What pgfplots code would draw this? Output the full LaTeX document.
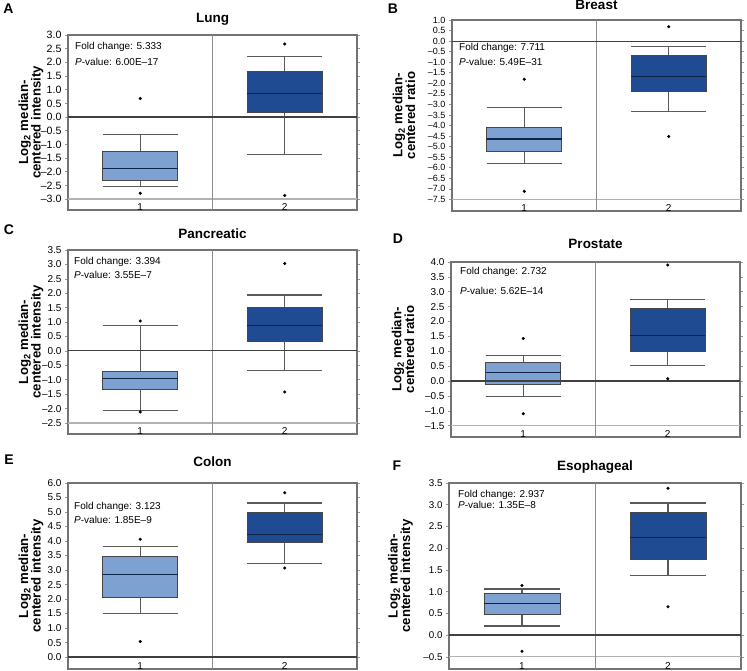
\documentclass[border=0pt]{standalone}
\usepackage{pgfplots}
\pgfplotsset{compat=1.18}
\usepgfplotslibrary{statistics}
\usepackage{fontspec}
\setmainfont{Liberation Sans}
\definecolor{lightbox}{HTML}{7DA2D2}
\definecolor{darkbox}{HTML}{1E4B91}
\definecolor{medline}{HTML}{0F2548}
\newcommand{\annfont}{\fontsize{10}{10}\selectfont}
\pgfplotsset{
 panel/.style={
  scale only axis, width=289pt, xmin=0.5, xmax=2.5,
  axis line style={draw=black!55, line width=1.4pt},
  xtick={1,2}, xticklabels={1,2},
  xtick style={draw=none},
  x tick label style={anchor=center, yshift=6pt, font=\fontsize{10}{10}\selectfont},
  ytick pos=both, tick align=outside, major tick length=3pt,
  ytick style={black!40, line width=0.6pt},
  yticklabel pos=left,
  title style={font=\bfseries\fontsize{13.5}{13.5}\selectfont, at={(axis description cs:0.5,1)}, anchor=center, yshift=10pt},
  ylabel style={anchor=center, align=center, font=\bfseries\fontsize{13.2}{12.6}\selectfont},
  clip=false,
 },
 tf/.style={y tick label style={font=\fontsize{#1}{#1}\selectfont}},
 leftpanel/.style={panel, ylabel style={at={(axis description cs:-0.128,0.5)}}},
 rightpanel/.style={panel, ylabel style={at={(axis description cs:-0.166,0.5)}}},
 bx1/.style={mark=*, mark size=1.35pt, mark options={fill=black, draw=black},
   boxplot/draw direction=y,
   boxplot/box extend=0.52, boxplot/whisker extend=0.52,
   boxplot/every box/.style={fill=lightbox, draw=black!72, line width=0.9pt},
   boxplot/every median/.style={draw=medline, line width=1.4pt},
   boxplot/every whisker/.style={draw=black!65, line width=1.1pt}},
 bx2/.style={mark=*, mark size=1.35pt, mark options={fill=black, draw=black},
   boxplot/draw direction=y,
   boxplot/box extend=0.52, boxplot/whisker extend=0.52,
   boxplot/every box/.style={fill=darkbox, draw=black!72, line width=0.9pt},
   boxplot/every median/.style={draw=medline, line width=1.4pt},
   boxplot/every whisker/.style={draw=black!65, line width=1.1pt}},
}
\newcommand{\ylabint}{Log\textsubscript{2} median-\\centered intensity}
\newcommand{\ylabrat}{Log\textsubscript{2} median-\\centered ratio}
\begin{document}
\begin{tikzpicture}
\path[use as bounding box] (0,0) rectangle (747pt,-671pt);

% ---------- A: Lung ----------
\begin{axis}[leftpanel, tf=10.6, at={(68pt,-210pt)}, anchor=south west, height=175pt,
  ymin=-3.4, ymax=3.0, title={Lung}, ylabel={\ylabint},
  ytick={-3,-2.5,-2,-1.5,-1,-0.5,0,0.5,1,1.5,2,2.5,3},
  yticklabels={–3.0,–2.5,–2.0,–1.5,–1.0,–0.5,0.0,0.5,1.0,1.5,2.0,2.5,3.0}]
\addplot[bx1, boxplot prepared={draw position=1, lower whisker=-2.53, lower quartile=-2.31, median=-1.88, upper quartile=-1.27, upper whisker=-0.64}]
  table[row sep=\\, y index=0] {0.68\\ -2.79\\};
\addplot[bx2, boxplot prepared={draw position=2, lower whisker=-1.37, lower quartile=0.15, median=0.86, upper quartile=1.65, upper whisker=2.22}]
  table[row sep=\\, y index=0] {2.67\\ -2.87\\};
\draw[black!30, line width=1.3pt] (axis cs:0.5,-3) -- (axis cs:2.5,-3);
\draw[black!45, line width=0.8pt] (axis cs:1.5,-3.4) -- (axis cs:1.5,3);
\draw[black!75, line width=1.1pt] (axis cs:0.5,0) -- (axis cs:2.5,0);
\end{axis}

% ---------- B: Breast ----------
\begin{axis}[rightpanel, tf=9, at={(452pt,-211pt)}, anchor=south west, height=191pt,
  ymin=-8.05, ymax=1.0, title={Breast}, title style={yshift=-1pt}, ylabel={\ylabrat},
  ytick={-7.5,-7,-6.5,-6,-5.5,-5,-4.5,-4,-3.5,-3,-2.5,-2,-1.5,-1,-0.5,0,0.5,1},
  yticklabels={–7.5,–7.0,–6.5,–6.0,–5.5,–5.0,–4.5,–4.0,–3.5,–3.0,–2.5,–2.0,–1.5,–1.0,–0.5,0.0,0.5,1.0}]
\addplot[bx1, boxplot prepared={draw position=1, lower whisker=-5.78, lower quartile=-5.21, median=-4.63, upper quartile=-4.11, upper whisker=-3.16}]
  table[row sep=\\, y index=0] {-1.81\\ -7.12\\};
\addplot[bx2, boxplot prepared={draw position=2, lower whisker=-3.34, lower quartile=-2.38, median=-1.67, upper quartile=-0.69, upper whisker=-0.25}]
  table[row sep=\\, y index=0] {0.68\\ -4.52\\};
\draw[black!30, line width=1.3pt] (axis cs:0.5,-7.5) -- (axis cs:2.5,-7.5);
\draw[black!45, line width=0.8pt] (axis cs:1.5,-8.05) -- (axis cs:1.5,1);
\draw[black!75, line width=1.1pt] (axis cs:0.5,0) -- (axis cs:2.5,0);
\end{axis}

% ---------- C: Pancreatic ----------
\begin{axis}[leftpanel, tf=10, at={(68pt,-434pt)}, anchor=south west, height=184pt,
  ymin=-2.88, ymax=3.5, title={Pancreatic}, ylabel={\ylabint},
  ytick={-2.5,-2,-1.5,-1,-0.5,0,0.5,1,1.5,2,2.5,3,3.5},
  yticklabels={–2.5,–2.0,–1.5,–1.0,–0.5,0.0,0.5,1.0,1.5,2.0,2.5,3.0,3.5}]
\addplot[bx1, boxplot prepared={draw position=1, lower whisker=-2.07, lower quartile=-1.33, median=-0.95, upper quartile=-0.71, upper whisker=0.87}]
  table[row sep=\\, y index=0] {1.04\\ -2.12\\};
\addplot[bx2, boxplot prepared={draw position=2, lower whisker=-0.69, lower quartile=0.32, median=0.89, upper quartile=1.52, upper whisker=1.94}]
  table[row sep=\\, y index=0] {3.03\\ -1.42\\};
\draw[black!30, line width=1.3pt] (axis cs:0.5,-2.5) -- (axis cs:2.5,-2.5);
\draw[black!45, line width=0.8pt] (axis cs:1.5,-2.88) -- (axis cs:1.5,3.5);
\draw[black!75, line width=1.1pt] (axis cs:0.5,0) -- (axis cs:2.5,0);
\end{axis}

% ---------- D: Prostate ----------
\begin{axis}[rightpanel, tf=10, at={(451pt,-437pt)}, anchor=south west, height=175pt,
  ymin=-1.88, ymax=4.0, title={Prostate}, title style={yshift=2pt}, ylabel={\ylabrat},
  ytick={-1.5,-1,-0.5,0,0.5,1,1.5,2,2.5,3,3.5,4},
  yticklabels={–1.5,–1.0,–0.5,0.0,0.5,1.0,1.5,2.0,2.5,3.0,3.5,4.0}]
\addplot[bx1, boxplot prepared={draw position=1, lower whisker=-0.51, lower quartile=-0.12, median=0.29, upper quartile=0.62, upper whisker=0.85}]
  table[row sep=\\, y index=0] {1.43\\ -1.10\\};
\addplot[bx2, boxplot prepared={draw position=2, lower whisker=0.51, lower quartile=0.98, median=1.53, upper quartile=2.45, upper whisker=2.74}]
  table[row sep=\\, y index=0] {3.90\\ 0.08\\};
\draw[black!30, line width=1.3pt] (axis cs:0.5,-1.5) -- (axis cs:2.5,-1.5);
\draw[black!45, line width=0.8pt] (axis cs:1.5,-1.88) -- (axis cs:1.5,4);
\draw[black!75, line width=1.1pt] (axis cs:0.5,0) -- (axis cs:2.5,0);
\end{axis}

% ---------- E: Colon ----------
\begin{axis}[leftpanel, tf=10, at={(68pt,-669pt)}, anchor=south west, height=186pt,
  ymin=-0.41, ymax=6.0, title={Colon}, title style={yshift=5pt}, ylabel={\ylabint},
  ytick={0,0.5,1,1.5,2,2.5,3,3.5,4,4.5,5,5.5,6},
  yticklabels={0.0,0.5,1.0,1.5,2.0,2.5,3.0,3.5,4.0,4.5,5.0,5.5,6.0}]
\addplot[bx1, boxplot prepared={draw position=1, lower whisker=1.49, lower quartile=2.07, median=2.84, upper quartile=3.48, upper whisker=3.82}]
  table[row sep=\\, y index=0] {4.06\\ 0.54\\};
\addplot[bx2, boxplot prepared={draw position=2, lower whisker=3.22, lower quartile=3.94, median=4.22, upper quartile=4.97, upper whisker=5.31}]
  table[row sep=\\, y index=0] {5.66\\ 3.07\\};
\draw[black!45, line width=0.8pt] (axis cs:1.5,-0.41) -- (axis cs:1.5,6);
\draw[black!75, line width=1.3pt] (axis cs:0.5,0) -- (axis cs:2.5,0);
\end{axis}

% ---------- F: Esophageal ----------
\begin{axis}[rightpanel, tf=9.8, at={(449pt,-669pt)}, anchor=south west, height=186pt, width=292pt,
  ymin=-0.78, ymax=3.5, title={Esophageal}, ylabel={\ylabint},
  ytick={-0.5,0,0.5,1,1.5,2,2.5,3,3.5},
  yticklabels={–0.5,0.0,0.5,1.0,1.5,2.0,2.5,3.0,3.5}]
\addplot[bx1, boxplot prepared={draw position=1, lower whisker=0.21, lower quartile=0.48, median=0.73, upper quartile=0.95, upper whisker=1.06}]
  table[row sep=\\, y index=0] {1.14\\ -0.37\\};
\addplot[bx2, boxplot prepared={draw position=2, lower whisker=1.38, lower quartile=1.75, median=2.25, upper quartile=2.82, upper whisker=3.04}]
  table[row sep=\\, y index=0] {3.38\\ 0.65\\};
\draw[black!30, line width=1.3pt] (axis cs:0.5,-0.5) -- (axis cs:2.5,-0.5);
\draw[black!45, line width=0.8pt] (axis cs:1.5,-0.78) -- (axis cs:1.5,3.5);
\draw[black!75, line width=1.3pt] (axis cs:0.5,0) -- (axis cs:2.5,0);
\end{axis}

% ---------- panel letters ----------
\begin{scope}[every node/.style={font=\bfseries\fontsize{14}{14}\selectfont, inner sep=0pt}]
\node at (8.5pt,-8.5pt) {A};
\node at (393pt,-8.5pt) {B};
\node at (9pt,-230pt) {C};
\node at (398pt,-239pt) {D};
\node at (9pt,-460pt) {E};
\node at (397pt,-466pt) {F};
\end{scope}

% ---------- annotations ----------
\begin{scope}[every node/.style={font=\annfont, anchor=west, inner sep=0pt}]
\node at (75pt,-47pt) {Fold change: 5.333};
\node at (75pt,-62pt) {\textit{P}-value: 6.00E–17};
\node at (459pt,-48pt) {Fold change: 7.711};
\node at (459pt,-62pt) {\textit{P}-value: 5.49E–31};
\node at (74pt,-262pt) {Fold change: 3.394};
\node at (74pt,-275pt) {\textit{P}-value: 3.55E–7};
\node at (460pt,-272pt) {Fold change: 2.732};
\node at (460pt,-291pt) {\textit{P}-value: 5.62E–14};
\node at (74pt,-507pt) {Fold change: 3.123};
\node at (74pt,-520pt) {\textit{P}-value: 1.85E–9};
\node at (458pt,-495pt) {Fold change: 2.937};
\node at (458pt,-505pt) {\textit{P}-value: 1.35E–8};
\end{scope}
\end{tikzpicture}
\end{document}
